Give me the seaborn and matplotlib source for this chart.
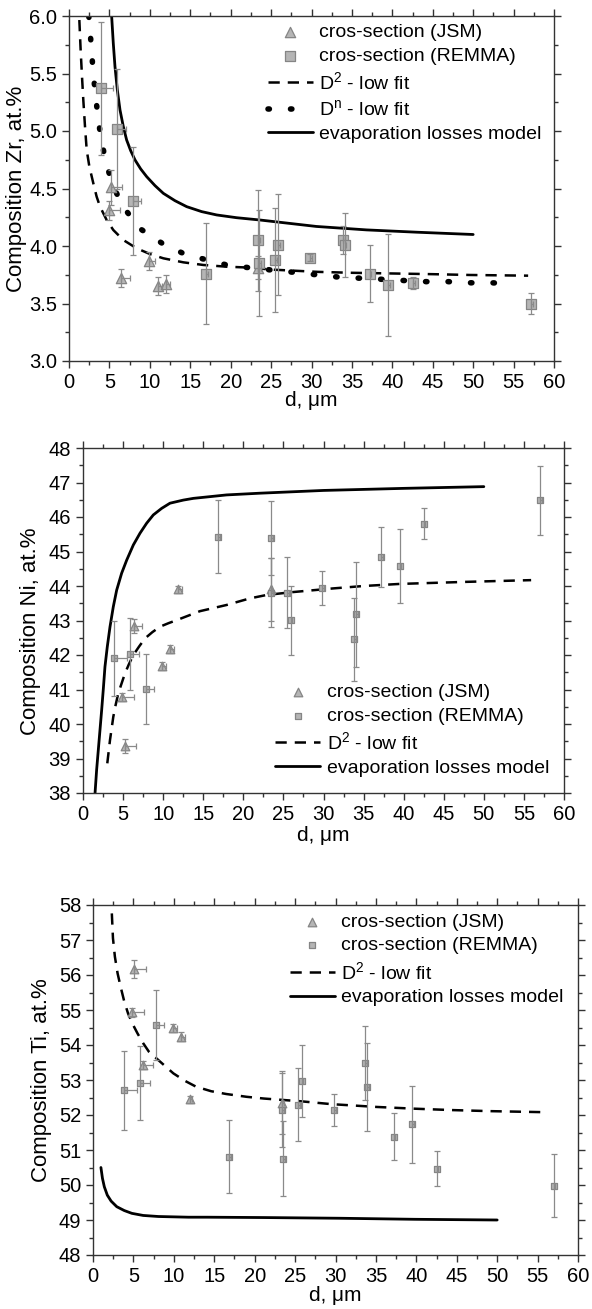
from __future__ import annotations

import matplotlib

matplotlib.use("Agg")
import matplotlib.pyplot as plt
import numpy as np
import seaborn as sns

# ---- Zr panel -------------------------------------------------------------
zr_jsm_d = [5.0, 5.2, 6.4, 9.9, 11.0, 12.0, 23.4]
zr_jsm_c = [4.31, 4.51, 3.72, 3.87, 3.65, 3.67, 3.81]
zr_jsm_yerr = [0.08, 0.15, 0.08, 0.08, 0.08, 0.08, 0.10]
zr_jsm_xerr = [1.3, 1.4, 1.1, 0.8, 0.5, 0.5, 0.3]

zr_remma_d = [3.9, 5.9, 7.9, 17.0, 23.4, 23.5, 25.5, 25.9, 29.8, 33.9, 34.1, 37.2, 39.5, 42.6, 57.2]
zr_remma_c = [5.37, 5.02, 4.39, 3.76, 4.05, 3.85, 3.88, 4.01, 3.90, 4.05, 4.01, 3.76, 3.66, 3.68, 3.50]
zr_remma_yerr = [0.58, 0.52, 0.47, 0.44, 0.44, 0.46, 0.45, 0.44, 0.03, 0.12, 0.28, 0.25, 0.44, 0.05, 0.09]
zr_remma_xerr = [1.5, 1.2, 1.0, 0.2, 0.2, 0.2, 0.2, 0.2, 0.2, 0.2, 0.2, 0.2, 0.2, 0.2, 0.2]

zr_d2_d = [1.28, 1.44, 1.61, 1.77, 1.98, 2.19, 2.52, 3.01, 3.42, 3.84, 4.66, 5.48, 6.72, 8.37,
           10.02, 11.67, 14.14, 16.62, 19.51, 22.39, 25.0, 30.8, 35.0, 40.9, 45.0, 49.6, 56.8]
zr_d2_c = [5.965, 5.704, 5.472, 5.270, 5.038, 4.835, 4.690, 4.545, 4.429, 4.342, 4.226, 4.139, 4.052, 3.980,
           3.930, 3.893, 3.858, 3.835, 3.820, 3.812, 3.795, 3.775, 3.767, 3.760, 3.755, 3.748, 3.742]

zr_dn_d = [2.45, 2.6, 2.8, 3.0, 3.3, 3.6, 4.0, 4.6, 5.4, 6.7, 8.8, 11.6, 14.3, 17.0, 19.8, 22.5,
           25.2, 28.0, 30.6, 33.3, 36.0, 38.8, 41.4, 44.2, 46.9, 49.6, 52.3, 55.1]
zr_dn_c = [6.0, 5.88, 5.69, 5.50, 5.30, 5.11, 4.92, 4.72, 4.53, 4.34, 4.15, 4.02, 3.93, 3.88, 3.83, 3.81,
           3.79, 3.77, 3.75, 3.73, 3.72, 3.71, 3.70, 3.69, 3.69, 3.68, 3.68, 3.67]

zr_evap_d = [5.28, 5.48, 5.69, 5.98, 6.31, 6.72, 7.13, 7.63, 8.17, 8.87, 9.61, 10.64, 11.67, 13.11,
             14.56, 16.41, 18.27, 20.74, 23.63, 30.6, 36.8, 43.0, 50.0]
zr_evap_c = [5.994, 5.762, 5.559, 5.357, 5.183, 5.038, 4.922, 4.829, 4.748, 4.670, 4.603, 4.525, 4.458, 4.394,
             4.342, 4.299, 4.270, 4.246, 4.226, 4.17, 4.14, 4.12, 4.10]

# ---- Ni panel -------------------------------------------------------------
ni_jsm_d = [4.9, 5.2, 6.3, 9.9, 10.9, 11.9, 23.4]
ni_jsm_c = [40.79, 39.37, 42.85, 41.68, 42.17, 43.91, 43.90]
ni_jsm_yerr = [0.12, 0.2, 0.2, 0.12, 0.12, 0.1, 0.9]
ni_jsm_xerr = [1.4, 1.4, 1.1, 0.5, 0.5, 0.4, 0.2]

ni_remma_d = [3.85, 5.9, 7.85, 16.9, 23.5, 23.5, 25.5, 25.9, 29.8, 33.8, 34.1, 37.2, 39.5, 42.5, 57.05]
ni_remma_c = [41.90, 42.03, 41.02, 45.43, 45.40, 43.80, 43.81, 43.01, 43.94, 42.45, 43.18, 44.84, 44.58, 45.80, 46.48]
ni_remma_yerr = [1.1, 1.03, 1.01, 1.05, 1.07, 1.0, 1.03, 1.0, 0.5, 1.2, 1.52, 0.88, 1.08, 0.45, 1.0]
ni_remma_xerr = [1.6, 1.1, 1.0, 0.2, 0.2, 0.2, 0.2, 0.2, 0.2, 0.2, 0.2, 0.2, 0.2, 0.2, 0.2]

ni_d2_d = [3.03, 3.2, 3.37, 3.58, 3.78, 4.07, 4.40, 4.82, 5.24, 5.74, 6.28, 6.98, 7.73, 8.64, 9.60,
           10.64, 11.68, 13.13, 14.58, 16.25, 17.91, 20.8, 22.9, 26.0, 31.2, 35.0, 39.5, 47.8, 55.9]
ni_d2_c = [38.86, 39.2, 39.54, 39.88, 40.21, 40.55, 40.89, 41.18, 41.47, 41.74, 42.0, 42.24, 42.48, 42.66, 42.82,
           42.92, 43.01, 43.14, 43.27, 43.36, 43.45, 43.64, 43.74, 43.82, 43.93, 44.0, 44.06, 44.12, 44.17]

ni_evap_d = [1.50, 1.70, 1.91, 2.12, 2.33, 2.54, 2.74, 3.03, 3.37, 3.78, 4.20, 4.82, 5.45, 6.28, 7.11,
             7.94, 8.77, 9.81, 10.85, 12.51, 13.76, 15.84, 17.91, 22.07, 30.0, 40.0, 50.0]
ni_evap_c = [37.99, 38.67, 39.25, 39.83, 40.41, 41.03, 41.66, 42.24, 42.82, 43.40, 43.88, 44.37, 44.75, 45.19, 45.53,
             45.82, 46.06, 46.25, 46.40, 46.49, 46.54, 46.59, 46.64, 46.69, 46.77, 46.83, 46.88]

# ---- Ti panel -------------------------------------------------------------
ti_jsm_d = [4.8, 5.1, 6.2, 9.85, 10.9, 11.95, 23.4]
ti_jsm_c = [54.93, 56.17, 53.43, 54.48, 54.24, 52.45, 52.35]
ti_jsm_yerr = [0.12, 0.26, 0.12, 0.12, 0.12, 0.1, 0.9]
ti_jsm_xerr = [1.5, 1.4, 1.2, 0.5, 0.5, 0.3, 0.2]

ti_remma_d = [3.8, 5.85, 7.85, 16.85, 23.4, 23.5, 25.35, 25.8, 29.8, 33.65, 33.95, 37.2, 39.45, 42.5, 57.0]
ti_remma_c = [52.71, 52.92, 54.57, 50.81, 52.14, 50.75, 52.29, 52.97, 52.14, 53.48, 52.79, 51.38, 51.73, 50.46, 49.98]
ti_remma_yerr = [1.13, 1.05, 1.0, 1.05, 1.05, 1.07, 1.04, 1.04, 0.46, 1.06, 1.26, 0.67, 1.09, 0.5, 0.9]
ti_remma_xerr = [1.7, 1.2, 0.9, 0.2, 0.2, 0.2, 0.2, 0.2, 0.2, 0.2, 0.2, 0.2, 0.2, 0.2, 0.2]

ti_d2_d = [2.33, 2.47, 2.71, 3.04, 3.41, 3.87, 4.34, 4.90, 5.51, 6.21, 6.91, 8.08, 9.01, 9.94, 11.34,
           12.74, 14.61, 16.48, 19.0, 21.15, 25.8, 29.5, 35.1, 39.8, 44.5, 49.2, 55.9]
ti_d2_c = [57.76, 57.05, 56.52, 56.05, 55.67, 55.24, 54.90, 54.60, 54.33, 54.05, 53.81, 53.57, 53.38, 53.19, 52.98,
           52.81, 52.68, 52.60, 52.52, 52.47, 52.39, 52.31, 52.23, 52.18, 52.14, 52.11, 52.08]

ti_evap_d = [0.98, 1.17, 1.40, 1.77, 2.24, 2.94, 3.87, 4.81, 6.21, 8.08, 11.81, 14.1, 21.1, 30.5, 39.8, 50.0]
ti_evap_c = [50.50, 50.19, 49.95, 49.71, 49.54, 49.38, 49.27, 49.19, 49.13, 49.10, 49.08, 49.08, 49.07, 49.05, 49.02, 49.0]

LBL_JSM = "cros-section (JSM)"
LBL_REMMA = "cros-section (REMMA)"
LBL_D2 = r"D$^{2}$ - low fit"
LBL_DN = r"D$^{n}$ - low fit"
LBL_EVAP = "evaporation losses model"

FACE = "#b5b5b5"
EDGE = "#858585"
ERR = "#8a8a8a"
SPINE = "#333333"

W, H = 592, 1309

sns.set_theme(style="ticks")
plt.rcParams["font.family"] = ["Liberation Sans", "DejaVu Sans"]
plt.rcParams["mathtext.default"] = "regular"
plt.rcParams["text.color"] = "black"
plt.rcParams["axes.labelcolor"] = "black"
plt.rcParams["xtick.labelcolor"] = "black"
plt.rcParams["ytick.labelcolor"] = "black"


def px_axes(fig, left, right, top, bottom):
    return fig.add_axes([left / W, (H - bottom) / H, (right - left) / W, (bottom - top) / H])


def draw_points(ax, d, c, yerr, xerr, marker, size):
    sns.scatterplot(x=d, y=c, marker=marker, s=size, color=FACE, edgecolor=EDGE,
                    linewidth=0.9, zorder=3, ax=ax,
                    label=LBL_JSM if marker == "^" else LBL_REMMA)
    ax.errorbar(d, c, yerr=yerr, xerr=[np.zeros(len(xerr)), xerr], fmt="none",
                ecolor=ERR, elinewidth=0.9, capsize=2.5, capthick=0.9, zorder=4)


def draw_curve(ax, d, c, style, label):
    kw = dict(color="black", sort=False, estimator=None, ax=ax, label=label, zorder=2)
    if style == "solid":
        sns.lineplot(x=d, y=c, linewidth=2.0, **kw)
    elif style == "dashed":
        sns.lineplot(x=d, y=c, linewidth=1.8, **kw)
        ax.lines[-1].set_dashes((4.5, 3.2))
    else:
        sns.lineplot(x=d, y=c, linewidth=4.0, **kw)
        ax.lines[-1].set_dashes((0.25, 3.8))
        ax.lines[-1].set_dash_capstyle("round")
    ax.lines[-1].set_solid_joinstyle("round")


def style_axes(ax, ylim, ymajor, ylabel, fmt, ylab_x, ylab_y, xlab_y):
    ax.set_xlim(0, 60)
    ax.set_ylim(*ylim)
    ax.set_xticks(np.arange(0, 61, 5))
    ax.set_xticks(np.arange(2.5, 60, 5), minor=True)
    ax.set_yticks(np.arange(ylim[0], ylim[1] + 1e-9, ymajor))
    ax.set_yticks(np.arange(ylim[0] + ymajor / 2, ylim[1], ymajor), minor=True)
    ax.yaxis.set_major_formatter(matplotlib.ticker.FormatStrFormatter(fmt))
    for s in ax.spines.values():
        s.set_visible(True)
        s.set_color(SPINE)
        s.set_linewidth(1.0)
    ax.tick_params(which="both", direction="out", top=True, right=True,
                   labeltop=False, labelright=False, color=SPINE, width=1.0)
    ax.tick_params(which="major", length=5, labelsize=14.5, pad=3.5)
    ax.tick_params(which="minor", length=3)
    ax.set_xlabel("d, μm", fontsize=15)
    ax.set_ylabel(ylabel, fontsize=16)
    ax.yaxis.set_label_coords(ylab_x, ylab_y)
    ax.xaxis.set_label_coords(0.5, xlab_y)
    ax.grid(False)


def add_legend(ax, order, anchor):
    handles, labels = ax.get_legend_handles_labels()
    lookup = dict(zip(labels, handles))
    ax.legend([lookup[k] for k in order], order, loc="upper left", bbox_to_anchor=anchor,
              frameon=False, fontsize=14, handlelength=2.3, handletextpad=0.35,
              labelspacing=0.32, borderpad=0, borderaxespad=0)


def main() -> None:
    fig = plt.figure(figsize=(W / 100, H / 100), dpi=100)
    fig.patch.set_facecolor("white")

    # Zr
    ax1 = px_axes(fig, 69, 554, 16, 361)
    draw_curve(ax1, zr_d2_d, zr_d2_c, "dashed", LBL_D2)
    draw_curve(ax1, zr_dn_d, zr_dn_c, "dotted", LBL_DN)
    draw_curve(ax1, zr_evap_d, zr_evap_c, "solid", LBL_EVAP)
    draw_points(ax1, zr_jsm_d, zr_jsm_c, zr_jsm_yerr, zr_jsm_xerr, "^", 55)
    draw_points(ax1, zr_remma_d, zr_remma_c, zr_remma_yerr, zr_remma_xerr, "s", 45)
    style_axes(ax1, (3.0, 6.0), 0.5, "Composition Zr, at.%", "%.1f", -0.086, 0.5, -0.088)
    add_legend(ax1, [LBL_JSM, LBL_REMMA, LBL_D2, LBL_DN, LBL_EVAP], (0.41, 0.978))

    # Ni
    ax2 = px_axes(fig, 83, 564, 448, 793)
    draw_curve(ax2, ni_d2_d, ni_d2_c, "dashed", LBL_D2)
    draw_curve(ax2, ni_evap_d, ni_evap_c, "solid", LBL_EVAP)
    draw_points(ax2, ni_jsm_d, ni_jsm_c, ni_jsm_yerr, ni_jsm_xerr, "^", 38)
    draw_points(ax2, ni_remma_d, ni_remma_c, ni_remma_yerr, ni_remma_xerr, "s", 25)
    style_axes(ax2, (38, 48), 1, "Composition Ni, at.%", "%d", -0.088, 0.47, -0.095)
    add_legend(ax2, [LBL_JSM, LBL_REMMA, LBL_D2, LBL_EVAP], (0.40, 0.318))

    # Ti
    ax3 = px_axes(fig, 93, 578, 905, 1255)
    draw_curve(ax3, ti_d2_d, ti_d2_c, "dashed", LBL_D2)
    draw_curve(ax3, ti_evap_d, ti_evap_c, "solid", LBL_EVAP)
    draw_points(ax3, ti_jsm_d, ti_jsm_c, ti_jsm_yerr, ti_jsm_xerr, "^", 38)
    draw_points(ax3, ti_remma_d, ti_remma_c, ti_remma_yerr, ti_remma_xerr, "s", 25)
    style_axes(ax3, (48, 58), 1, "Composition Ti, at.%", "%d", -0.085, 0.5, -0.088)
    add_legend(ax3, [LBL_JSM, LBL_REMMA, LBL_D2, LBL_EVAP], (0.406, 0.977))

    fig.savefig("out.png", dpi=100)
    plt.close(fig)


if __name__ == "__main__":
    main()
